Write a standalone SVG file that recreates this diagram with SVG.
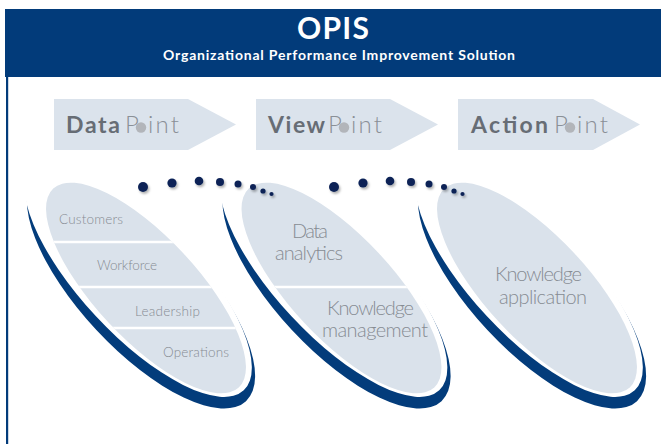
<svg xmlns="http://www.w3.org/2000/svg" width="661" height="444" viewBox="0 0 661 444">
<style>
.band{fill:#023b7a}
.arrow{fill:#dbe3ec}
.bold{font-family:Lato,"Liberation Sans",sans-serif;font-weight:bold;font-size:23px;fill:#676d75}
.reg{font-family:Lato,"Liberation Sans",sans-serif;font-weight:300;font-size:24px;fill:#8a9097}
.ring{fill:#b2b5ba}
.oval{fill:#dae2eb}
.swoosh{fill:#033c7b}
.sep{stroke:#fff;stroke-width:2.6}
.lbl{font-family:Lato,"Liberation Sans",sans-serif;font-weight:300;fill:#878c93}
.s13{font-size:13.5px}
.s20{font-size:20px}
.dot{fill:#0c2457;filter:url(#sh)}
</style>
<defs>
<filter id="sh" x="-80%" y="-80%" width="260%" height="260%">
<feDropShadow dx="1.4" dy="2" stdDeviation="1.2" flood-color="#000" flood-opacity="0.3"/>
</filter>
<mask id="mk" maskUnits="userSpaceOnUse" x="-20" y="150" width="340" height="294">
<rect x="-20" y="150" width="340" height="294" fill="#fff"/>
<ellipse cx="138.1" cy="277" rx="154.9" ry="57.6" transform="rotate(47 138.1 277)" fill="#000"/>
</mask>
<clipPath id="co">
<ellipse cx="146" cy="288" rx="136" ry="51" transform="rotate(47 146 288)"/>
</clipPath>
</defs>

<g id="header">
<rect class="band" x="5" y="9" width="656" height="68"/>
<rect class="band" x="6" y="9" width="2.2" height="435"/>
<text x="297" y="39" textLength="72" font-family="Lato,'Liberation Sans',sans-serif" font-weight="bold" font-size="30" fill="#fff">OPIS</text>
<text x="163" y="60" textLength="352" font-family="Lato,'Liberation Sans',sans-serif" font-weight="bold" font-size="14" fill="#fff">Organizational Performance Improvement Solution</text>
</g>

<g id="datapoint">
<polygon class="arrow" points="54,99 188,99 236,124.5 188,150 54,150"/>
<text class="bold" x="66" y="133" textLength="54">Data</text>
<text class="reg" x="125" y="133">P</text>
<circle class="ring" cx="141" cy="127.5" r="5.2"/>
<text class="reg" x="148" y="133" textLength="31">int</text>
</g>

<g id="viewpoint">
<polygon class="arrow" points="256,99 390,99 438,124.5 390,150 256,150"/>
<text class="bold" x="268" y="133" textLength="57">View</text>
<text class="reg" x="328" y="133">P</text>
<circle class="ring" cx="344" cy="127.5" r="5.2"/>
<text class="reg" x="351" y="133" textLength="31">int</text>
</g>

<g id="actionpoint">
<polygon class="arrow" points="458,99 593,99 640,124.5 593,150 458,150"/>
<text class="bold" x="471" y="133" textLength="77">Action</text>
<text class="reg" x="554" y="133">P</text>
<circle class="ring" cx="570" cy="127.5" r="5.2"/>
<text class="reg" x="577" y="133" textLength="31">int</text>
</g>

<g id="oval-data">
<g>
<g mask="url(#mk)"><ellipse class="swoosh" cx="141" cy="288.5" rx="154" ry="61" transform="rotate(47 141 288.5)"/></g>
<ellipse class="oval" cx="146" cy="288" rx="136" ry="51" transform="rotate(47 146 288)"/>
<g clip-path="url(#co)">
<line class="sep" x1="30" y1="242" x2="260" y2="242"/>
<line class="sep" x1="30" y1="287" x2="260" y2="287"/>
<line class="sep" x1="30" y1="328" x2="260" y2="328"/>
</g>
</g>
<text class="lbl s13" x="59" y="224" textLength="64">Customers</text>
<text class="lbl s13" x="97" y="270" textLength="60">Workforce</text>
<text class="lbl s13" x="135" y="316" textLength="65">Leadership</text>
<text class="lbl s13" x="163" y="357" textLength="66">Operations</text>
</g>

<g id="oval-view">
<g transform="translate(195.5 0)">
<g mask="url(#mk)"><ellipse class="swoosh" cx="141" cy="288.5" rx="154" ry="61" transform="rotate(47 141 288.5)"/></g>
<ellipse class="oval" cx="146" cy="288" rx="136" ry="51" transform="rotate(47 146 288)"/>
<g clip-path="url(#co)">
<line class="sep" x1="30" y1="287" x2="260" y2="287"/>
</g>
</g>
<text class="lbl s20" x="292" y="238" textLength="36">Data</text>
<text class="lbl s20" x="275" y="260" textLength="68">analytics</text>
<text class="lbl s20" x="327" y="315" textLength="87">Knowledge</text>
<text class="lbl s20" x="322" y="337" textLength="106">management</text>
</g>

<g id="oval-action">
<g transform="translate(391 0)">
<g mask="url(#mk)"><ellipse class="swoosh" cx="141" cy="288.5" rx="154" ry="61" transform="rotate(47 141 288.5)"/></g>
<ellipse class="oval" cx="146" cy="288" rx="136" ry="51" transform="rotate(47 146 288)"/>
</g>
<text class="lbl s20" x="495" y="281" textLength="87">Knowledge</text>
<text class="lbl s20" x="499" y="304" textLength="88">application</text>
</g>

<g id="connectors">
<circle class="dot" cx="143" cy="187" r="5"/>
<circle class="dot" cx="172" cy="183" r="4.6"/>
<circle class="dot" cx="199" cy="181" r="4.3"/>
<circle class="dot" cx="220" cy="182" r="4"/>
<circle class="dot" cx="238" cy="184" r="3.5"/>
<circle class="dot" cx="253" cy="187" r="3"/>
<circle class="dot" cx="263" cy="191" r="2.6"/>
<circle class="dot" cx="271.5" cy="194" r="2.1"/>
<circle class="dot" cx="334" cy="187" r="5"/>
<circle class="dot" cx="363" cy="183" r="4.6"/>
<circle class="dot" cx="390" cy="181" r="4.3"/>
<circle class="dot" cx="411" cy="182" r="4"/>
<circle class="dot" cx="429" cy="184" r="3.5"/>
<circle class="dot" cx="444" cy="187" r="3"/>
<circle class="dot" cx="454" cy="191" r="2.6"/>
<circle class="dot" cx="462.5" cy="194" r="2.1"/>
</g>
</svg>
